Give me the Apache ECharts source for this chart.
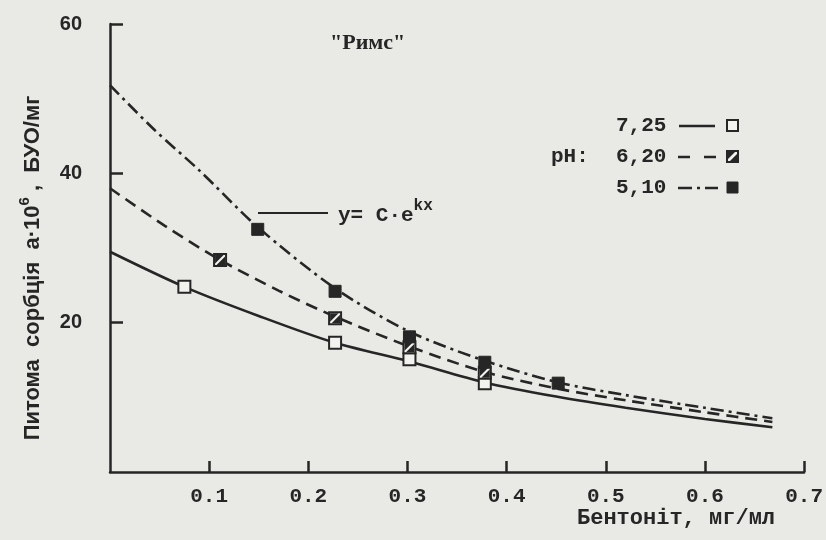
<!DOCTYPE html>
<html>
<head>
<meta charset="utf-8">
<script src="https://cdn.jsdelivr.net/npm/echarts@6/dist/echarts.min.js"></script>
<style>
html,body{margin:0;padding:0;background:#e9e9e5;}
#c{width:826px;height:540px;}
</style>
</head>
<body>
<div id="c"></div>
<script>
// ---- data ----
const curve725X = [0, 0.075, 0.15, 0.227, 0.302, 0.378, 0.45, 0.52, 0.6, 0.668];
const curve725Y = [29.5, 24.8, 20.9, 17.3, 14.8, 12.0, 10.1, 8.6, 7.1, 6.0];
const pts725X = [0.075, 0.227, 0.302, 0.378];
const pts725Y = [24.8, 17.3, 15.1, 11.9];

const curve620X = [0, 0.055, 0.111, 0.17, 0.227, 0.302, 0.378, 0.45, 0.52, 0.6, 0.668];
const curve620Y = [38.0, 33.0, 28.4, 24.3, 20.8, 16.8, 13.4, 11.2, 9.6, 8.0, 6.7];
const pts620X = [0.111, 0.227, 0.302, 0.378];
const pts620Y = [28.4, 20.6, 16.7, 13.3];

const curve510X = [0, 0.045, 0.09, 0.149, 0.227, 0.302, 0.378, 0.452, 0.52, 0.6, 0.668];
const curve510Y = [51.8, 45.8, 40.4, 32.8, 24.6, 18.8, 14.9, 12.0, 10.3, 8.6, 7.2];
const pts510X = [0.149, 0.227, 0.302, 0.378, 0.452];
const pts510Y = [32.5, 24.2, 18.1, 14.7, 11.9];

const legendLabels = ['7,25', '6,20', '5,10'];
const titleText = '"Римс"';
const xName = 'Бентоніт, мг/мл';

// ---- build ----
const pair = (xs, ys) => xs.map((x, i) => [x, ys[i]]);
const INK = '#262626';
const PAPER = '#f2f2ee';
const MONO = '"Liberation Mono","DejaVu Sans Mono",monospace';
const SANS = '"Liberation Sans",Arial,sans-serif';

const chart = echarts.init(document.getElementById('c'));
const lineBase = {type: 'line', smooth: 0.3, showSymbol: false, silent: true, z: 2};
const scatterBase = {type: 'scatter', z: 5, silent: true};

chart.setOption({
  backgroundColor: '#e9e9e5',
  animation: false,
  grid: {left: 110, right: 15, top: 24, bottom: 68},
  xAxis: {
    type: 'value', min: 0, max: 0.7, interval: 0.1,
    axisLine: {lineStyle: {color: INK, width: 2.5}},
    axisTick: {inside: true, length: 11, lineStyle: {color: INK, width: 2.5}},
    axisLabel: {showMinLabel: false, margin: 14, color: INK, fontFamily: MONO, fontSize: 21, fontWeight: 'bold',
      formatter: v => v.toFixed(1)},
    splitLine: {show: false}
  },
  yAxis: {
    type: 'value', min: 0, max: 60, interval: 20,
    axisLine: {show: true, lineStyle: {color: INK, width: 2.5}},
    axisTick: {show: true, inside: true, length: 13, lineStyle: {color: INK, width: 2.5}},
    axisLabel: {showMinLabel: false, margin: 28, color: INK, fontFamily: SANS, fontSize: 20, fontWeight: 'bold'},
    splitLine: {show: false}
  },
  series: [
    Object.assign({}, lineBase, {name: '7,25', data: pair(curve725X, curve725Y),
      lineStyle: {color: INK, width: 2.6, type: 'solid'}}),
    Object.assign({}, lineBase, {name: '6,20', data: pair(curve620X, curve620Y),
      lineStyle: {color: INK, width: 2.6, type: [12, 7]}}),
    Object.assign({}, lineBase, {name: '5,10', data: pair(curve510X, curve510Y),
      lineStyle: {color: INK, width: 2.6, type: [13, 5, 3, 5]}}),
    Object.assign({}, scatterBase, {name: '7,25 pts', data: pair(pts725X, pts725Y), symbol: 'rect', symbolSize: 12,
      itemStyle: {color: PAPER, borderColor: INK, borderWidth: 2, opacity: 1}}),
    Object.assign({}, scatterBase, {name: '6,20 pts', data: pair(pts620X, pts620Y), symbol: 'rect', symbolSize: 12,
      itemStyle: {color: PAPER, borderColor: INK, borderWidth: 2, opacity: 1}}),
    Object.assign({}, scatterBase, {name: '6,20 fill', data: pair(pts620X, pts620Y), symbol: 'path://M0,0L8.5,0L0,8.5Z M10,1.5L10,10L1.5,10Z', symbolSize: 10, z: 6,
      itemStyle: {color: INK, opacity: 1}}),
    Object.assign({}, scatterBase, {name: '5,10 pts', data: pair(pts510X, pts510Y), symbol: 'rect', symbolSize: 12,
      itemStyle: {color: INK, borderColor: INK, borderWidth: 1, opacity: 1}})
  ],
  graphic: [
    {type: 'text', left: 330, top: 32, style: {text: titleText, font: 'bold 22px "Liberation Serif",serif', fill: INK}},
    // y = C·e^kx note
    {type: 'line', shape: {x1: 258, y1: 213, x2: 328, y2: 213}, style: {stroke: INK, lineWidth: 2}},
    {type: 'text', x: 338, y: 213, style: {
      text: '{b|y= C·e}{s|kx}', verticalAlign: 'middle',
      rich: {b: {font: 'bold 21px ' + MONO, fill: INK, padding: [6, 0, 0, 0]}, s: {font: 'bold 16px ' + MONO, fill: INK, padding: [0, 0, 14, 0]}}
    }},
    // legend
    {type: 'text', x: 551, y: 157, style: {text: 'pH:', font: 'bold 21px ' + MONO, fill: INK, verticalAlign: 'middle'}},
    {type: 'text', x: 616, y: 126, style: {text: legendLabels[0], font: 'bold 21px ' + MONO, fill: INK, verticalAlign: 'middle'}},
    {type: 'text', x: 616, y: 157, style: {text: legendLabels[1], font: 'bold 21px ' + MONO, fill: INK, verticalAlign: 'middle'}},
    {type: 'text', x: 616, y: 188, style: {text: legendLabels[2], font: 'bold 21px ' + MONO, fill: INK, verticalAlign: 'middle'}},
    {type: 'line', shape: {x1: 679, y1: 126, x2: 715, y2: 126}, style: {stroke: INK, lineWidth: 2.5}},
    {type: 'line', shape: {x1: 678, y1: 157, x2: 716, y2: 157}, style: {stroke: INK, lineWidth: 2.5, lineDash: [12, 14]}},
    {type: 'line', shape: {x1: 678, y1: 188, x2: 718, y2: 188}, style: {stroke: INK, lineWidth: 2.5, lineDash: [14, 5, 3, 5]}},
    {type: 'rect', shape: {x: 727, y: 120, width: 11, height: 11}, style: {fill: PAPER, stroke: INK, lineWidth: 2}},
    {type: 'rect', shape: {x: 727, y: 151, width: 11, height: 11}, style: {fill: PAPER, stroke: INK, lineWidth: 2}},
    {type: 'polygon', shape: {points: [[727, 151], [736, 151], [727, 160]]}, style: {fill: INK}},
    {type: 'polygon', shape: {points: [[738, 153], [738, 162], [729, 162]]}, style: {fill: INK}},
    {type: 'rect', shape: {x: 727, y: 182, width: 11, height: 11}, style: {fill: INK, stroke: INK, lineWidth: 1}},
    // axis names
    {type: 'text', x: 577, y: 518, style: {text: xName, font: 'bold 22px ' + MONO, fill: INK, verticalAlign: 'middle'}},
    {type: 'text', x: 30, y: 268, rotation: Math.PI / 2, style: {
      text: '{a|Питома  сорбція  а·10}{s|6}{a| ,  БУО/мг}', align: 'center', verticalAlign: 'middle',
      rich: {a: {font: 'bold 22px ' + SANS, fill: INK, padding: [6, 0, 0, 0]}, s: {font: 'bold 15px ' + SANS, fill: INK, padding: [0, 0, 11, 0]}}
    }}
  ]
});
</script>
</body>
</html>
